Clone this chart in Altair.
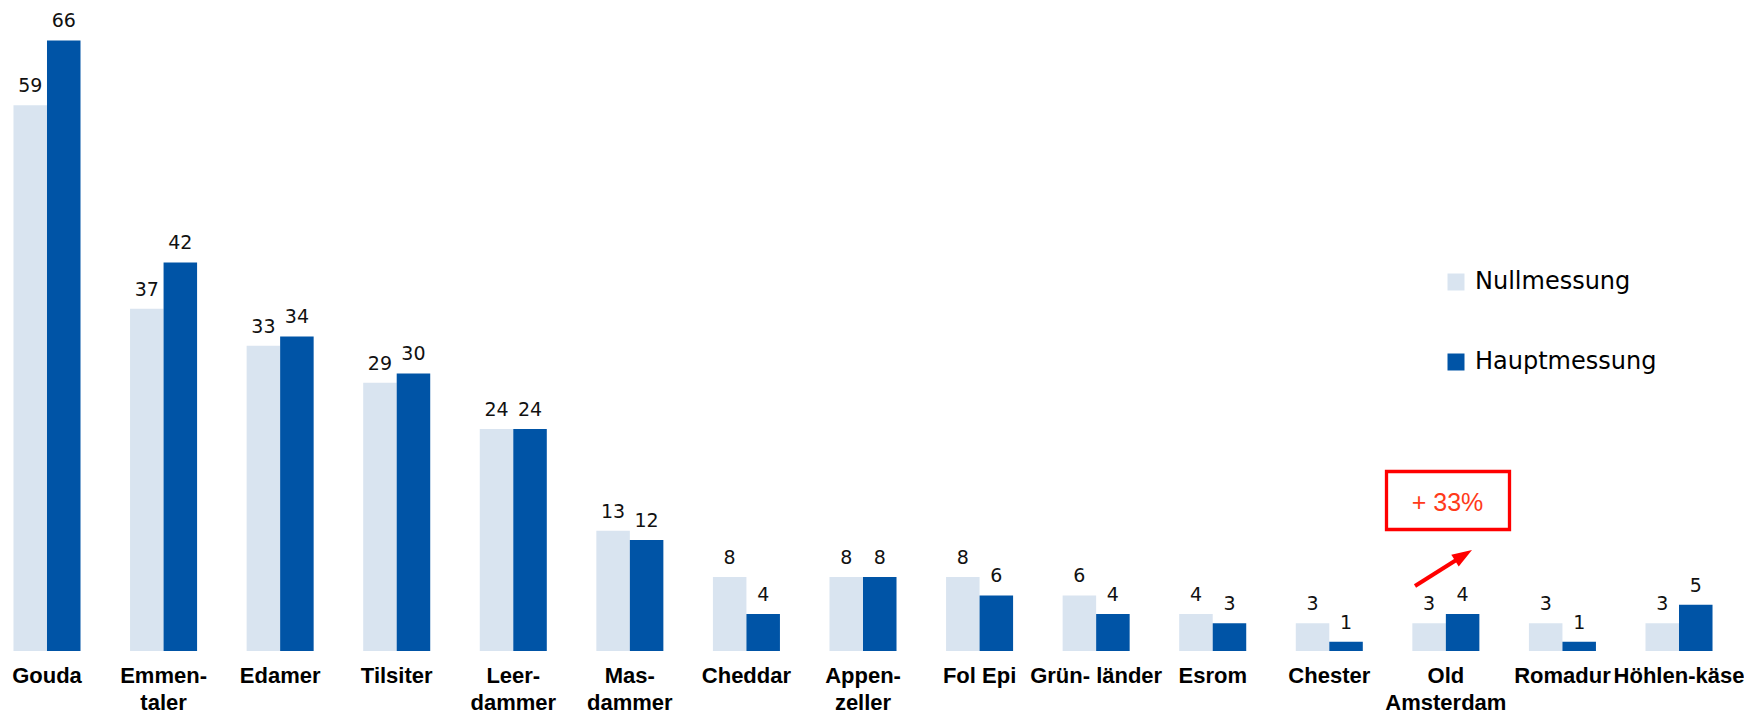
import altair as alt
import pandas as pd

categories = ["Gouda", "Emmen-|taler", "Edamer", "Tilsiter", "Leer-|dammer", "Mas-|dammer",
              "Cheddar", "Appen-|zeller", "Fol Epi", "Grün- länder", "Esrom", "Chester",
              "Old|Amsterdam", "Romadur", "Höhlen-käse"]
nullmessung = [59, 37, 33, 29, 24, 13, 8, 8, 8, 6, 4, 3, 3, 3, 3]
hauptmessung = [66, 42, 34, 30, 24, 12, 4, 8, 6, 4, 3, 1, 4, 1, 5]
series = ["Nullmessung", "Hauptmessung"]
colors = ["#d9e4f0", "#0054a6"]
annotation_text = "+ 33%"

rows = []
for c, a, b in zip(categories, nullmessung, hauptmessung):
    rows.append({"cat": c, "serie": series[0], "wert": a})
    rows.append({"cat": c, "serie": series[1], "wert": b})
df = pd.DataFrame(rows)

x_enc = alt.X("cat:N", sort=categories,
              scale=alt.Scale(paddingInner=0.425, paddingOuter=0.047),
              axis=alt.Axis(title=None, labelAngle=0, domain=False, ticks=False,
                            labelExpr="split(datum.label, '|')",
                            labelFont="Liberation Sans", labelFontWeight="bold",
                            labelFontSize=22, labelLineHeight=27, labelColor="#000000",
                            labelBaseline="top", labelPadding=14))
y_enc = alt.Y("wert:Q", scale=alt.Scale(domain=[0, 69.5], nice=False, zero=True), axis=None)
xo = alt.XOffset("serie:N", sort=series, scale=alt.Scale(domain=series))

base = alt.Chart(df)
bars = base.mark_bar().encode(
    x=x_enc, y=y_enc, xOffset=xo,
    color=alt.Color("serie:N", sort=series,
                    scale=alt.Scale(domain=series, range=colors),
                    legend=alt.Legend(title=None, orient="none", legendX=1436, legendY=262,
                                      direction="vertical", symbolType="square",
                                      symbolSize=289, symbolStrokeWidth=0,
                                      labelFont="DejaVu Sans", labelFontSize=24,
                                      labelColor="#000000", labelOffset=7, labelLimit=400,
                                      rowPadding=56, padding=0)),
)
labels = base.mark_text(font="DejaVu Sans", fontSize=19, color="#111111",
                        baseline="alphabetic", dy=-13).encode(
    x=x_enc, y=y_enc, xOffset=xo, text=alt.Text("wert:Q"),
)

one = alt.Data(values=[{"t": annotation_text}])
box = alt.Chart(one).mark_rect(fill="white", stroke="#ff0000", strokeWidth=3.3).encode(
    x=alt.value(1378.5), x2=alt.value(1501.5), y=alt.value(463.5), y2=alt.value(521.5))
box_text = alt.Chart(one).mark_text(font="Liberation Sans", fontSize=25, color="#ff3a1a",
                                    baseline="middle", align="center").encode(
    x=alt.value(1439.5), y=alt.value(495), text="t:N")
arrow_line = alt.Chart(one).mark_rule(color="#ff0000", strokeWidth=4, strokeCap="butt").encode(
    x=alt.value(1407), y=alt.value(578), x2=alt.value(1457), y2=alt.value(546.5))
arrow_head = alt.Chart(one).mark_point(shape="M0,-1L0.7,1L-0.7,1Z", filled=True, opacity=1,
                                       color="#ff0000", size=400, angle=58,
                                       strokeWidth=0).encode(
    x=alt.value(1455.5), y=alt.value(547.3))

chart = alt.layer(bars, labels, box, box_text, arrow_line, arrow_head).properties(
    width=1710, height=643, padding=0
).configure_view(stroke=None)

chart.save("out.html", embed_options={"renderer": "svg", "actions": False})
